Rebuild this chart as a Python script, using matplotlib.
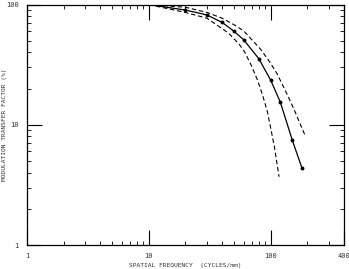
import matplotlib
matplotlib.use("Agg")
import matplotlib.pyplot as plt
import numpy as np
from matplotlib.ticker import LogLocator, FixedLocator, NullFormatter

# measured MTF (solid, with points) and the two bounding dashed curves
freq = [10, 20, 30, 40, 50, 60, 80, 100, 120, 150, 180]
mtf = [100, 90, 82, 71, 60, 51, 35.4, 23.5, 15.4, 7.5, 4.4]

freq_hi = [10, 20, 30, 40, 50, 60, 83, 100, 113, 135, 155, 190]
mtf_hi = [100, 95, 86, 77, 68, 60.5, 42.3, 32.4, 26.5, 18.3, 13.5, 8.3]

freq_lo = [10, 20, 30, 45, 55, 61, 69, 78, 86, 94, 107, 117]
mtf_lo = [100, 86, 77, 58, 47, 40.5, 31.5, 23.5, 17.5, 12.8, 6.65, 3.7]

xticks = [1, 10, 100, 400]
xticklabels = ["1", "10", "100", "400"]
yticks = [1, 10, 100]
yticklabels = ["1", "10", "100"]

plt.rcParams['font.family'] = ['DejaVu Sans Mono']

fig = plt.figure(figsize=(3.49, 2.69), dpi=100)
ax = fig.add_axes([0.077, 0.089, 0.909, 0.894])

ax.plot(freq, mtf, color="black", lw=0.9)
ax.plot(freq[1:], mtf[1:], "o", color="black", ms=1.8)
ax.plot(freq_hi, mtf_hi, color="black", lw=0.8, dashes=(4, 2.5))
ax.plot(freq_lo, mtf_lo, color="black", lw=0.8, dashes=(4, 2.5))

ax.set_xscale("log")
ax.set_yscale("log")
ax.set_xlim(1, 400)
ax.set_ylim(1, 100)

ax.xaxis.set_major_locator(FixedLocator(xticks))
ax.set_xticklabels(xticklabels)
ax.yaxis.set_major_locator(FixedLocator(yticks))
ax.set_yticklabels(yticklabels)
ax.xaxis.set_minor_locator(LogLocator(base=10, subs=np.arange(2, 10), numticks=10))
ax.yaxis.set_minor_locator(LogLocator(base=10, subs=np.arange(2, 10), numticks=10))
ax.xaxis.set_minor_formatter(NullFormatter())
ax.yaxis.set_minor_formatter(NullFormatter())

ax.tick_params(which="major", direction="in", length=11, width=0.8,
               top=True, right=True, labelsize=5, pad=6, colors="black")
ax.tick_params(which="minor", direction="in", length=3, width=0.6,
               top=True, right=True)
for lbl in ax.get_xticklabels() + ax.get_yticklabels():
    lbl.set_color("#333333")
for s in ax.spines.values():
    s.set_linewidth(0.9)

ax.set_ylabel("MODULATION TRANSFER FACTOR (%)", fontsize=4.5, color="#333333")
ax.yaxis.set_label_coords(-0.062, 0.5)
ax.set_xlabel("SPATIAL FREQUENCY  (CYCLES/mm)", fontsize=4.5, color="#333333")
ax.xaxis.set_label_coords(0.5, -0.073)

fig.savefig("out.png", dpi=100)
